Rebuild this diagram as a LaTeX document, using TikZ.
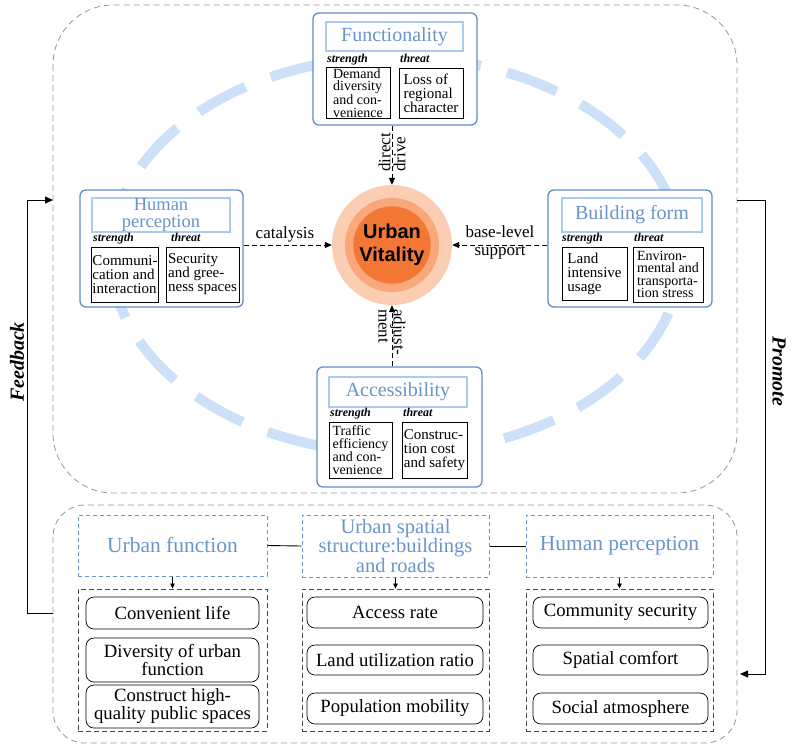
\documentclass[tikz,border=0pt]{standalone}
\usepackage{fontspec}
\setmainfont{Liberation Serif}
\newfontfamily\uvfont{Liberation Sans}
\usetikzlibrary{arrows.meta}
\definecolor{boxblue}{RGB}{96,140,204}
\definecolor{titleline}{RGB}{168,204,242}
\definecolor{titletext}{RGB}{106,148,202}
\definecolor{ellblue}{RGB}{204,225,247}
\definecolor{uvA}{RGB}{251,206,180}
\definecolor{uvB}{RGB}{248,168,122}
\definecolor{uvC}{RGB}{243,120,54}
\definecolor{panelgray}{RGB}{150,150,150}
\definecolor{listgray}{RGB}{70,70,70}
\begin{document}
\begin{tikzpicture}[x=1pt,y=-1pt,
  outerbox/.style={draw=boxblue, line width=1.3pt, rounded corners=6pt, fill=white, inner sep=0pt},
  titlebox/.style={draw=titleline, line width=1.3pt, fill=white, text=titletext, font=\fontsize{20}{17}\selectfont, align=center, inner sep=0pt},
  smallbox/.style={draw=black, line width=0.8pt, fill=white, font=\fontsize{15}{14}\selectfont, align=left, inner sep=1pt},
  fourline/.style={font=\fontsize{14}{12.6}\selectfont},
  lab/.style={font=\bfseries\itshape\fontsize{12}{12}\selectfont, anchor=base west, inner sep=0pt},
  arlab/.style={font=\fontsize{17}{15}\selectfont, inner sep=0pt, align=left},
  dasharrow/.style={draw=black, line width=0.8pt, dash pattern=on 5pt off 3pt, -{Triangle[length=7pt,width=6pt]}},
  panel/.style={draw=panelgray, line width=0.8pt, dash pattern=on 6pt off 4pt},
  ttlbox/.style={draw=titletext, line width=1pt, dash pattern=on 4pt off 3pt, text=titletext, align=center, inner sep=0pt, font=\fontsize{20.5}{17}\selectfont},
  listbox/.style={draw=listgray, line width=0.9pt, dash pattern=on 5pt off 3pt, inner sep=0pt},
  item/.style={draw=black, line width=0.7pt, rounded corners=8pt, fill=white, align=center, inner sep=0pt, font=\fontsize{18.7}{16}\selectfont},
  smallarrow/.style={draw=black, line width=0.8pt, -{Triangle[length=5pt,width=4.5pt]}},
  loop/.style={draw=black, line width=0.8pt, -{Triangle[length=8pt,width=7pt]}},
  side/.style={font=\bfseries\itshape\fontsize{20}{20}\selectfont, inner sep=0pt}
]
\useasboundingbox (0,0) rectangle (792,748);

% panels
\draw[panel, rounded corners=60pt] (53,5) rectangle (737,493);
\draw[panel, rounded corners=32pt] (53,505) rectangle (737,743);

% dashed light-blue ellipse
\draw[ellblue, line width=10pt, dash pattern=on 53pt off 27pt, dash phase=20pt] (396,255) ellipse [x radius=285, y radius=198];

% Functionality
\node[outerbox, minimum width=164pt, minimum height=112pt] (fn) at (395,69) {};
\node[titlebox, minimum width=137pt, minimum height=29pt] (fnT) at (394.5,36.5) {Functionality};
\node[lab] (fnS) at (327,62) {strength};
\node[lab] (fnR) at (400,62) {threat};
\node[smallbox, fourline, minimum width=64pt, minimum height=50pt] (fnSb) at (358,93) {Demand\\diversity\\and con-\\venience};
\node[smallbox, minimum width=64pt, minimum height=50pt] (fnRb) at (431,93) {Loss of\\regional\\character};

% Human perception
\node[outerbox, minimum width=163pt, minimum height=117pt] (hp) at (161.5,248.5) {};
\node[titlebox, minimum width=138pt, minimum height=34pt, font=\fontsize{18.5}{17.5}\selectfont] (hpT) at (161,215) {Human\\perception};
\node[lab] (hpS) at (93,241) {strength};
\node[lab] (hpR) at (171,241) {threat};
\node[smallbox, minimum width=66pt, minimum height=55pt] (hpSb) at (125,274.5) {Communi-\\cation and\\interaction};
\node[smallbox, minimum width=73pt, minimum height=55pt] (hpRb) at (202.5,274.5) {Security\\and gree-\\ness spaces};

% Building form
\node[outerbox, minimum width=164pt, minimum height=117pt] (bf) at (630,248.5) {};
\node[titlebox, minimum width=140pt, minimum height=34pt] (bfT) at (632,215) {Building form};
\node[lab] (bfS) at (562,241) {strength};
\node[lab] (bfR) at (634,241) {threat};
\node[smallbox, minimum width=65pt, minimum height=53pt] (bfSb) at (594.5,273.5) {Land\\intensive\\usage};
\node[smallbox, fourline, minimum width=70pt, minimum height=55pt] (bfRb) at (668,274.5) {Environ-\\mental and\\transporta-\\tion stress};

% Accessibility
\node[outerbox, minimum width=165pt, minimum height=120pt] (ac) at (399.5,427) {};
\node[titlebox, minimum width=138pt, minimum height=30pt] (acT) at (398,392) {Accessibility};
\node[lab] (acS) at (330,416) {strength};
\node[lab] (acR) at (403,416) {threat};
\node[smallbox, fourline, minimum width=63pt, minimum height=56pt, font=\fontsize{14}{13}\selectfont] (acSb) at (360.5,450) {Traffic\\efficiency\\and con-\\venience};
\node[smallbox, minimum width=65pt, minimum height=56pt] (acRb) at (434.5,450) {Construc-\\tion cost\\and safety};

% Urban vitality
\node[circle, fill=uvA, minimum size=120pt, inner sep=0pt] (uv) at (392,245) {};
\node[circle, fill=uvB, minimum size=94pt, inner sep=0pt] (uvm) at (392,245) {};
\node[circle, fill=uvC, minimum size=77pt, inner sep=0pt, align=center, font=\uvfont\bfseries\fontsize{20}{23}\selectfont] (uvi) at (392,245) {Urban\\Vitality};

% arrows to center
\draw[dasharrow] (fn.south -| uv.north) -- (uv.north);
\node[arlab, rotate=90, anchor=west] (ddl) at (392,172) {direct\\drive};
\draw[dasharrow] (hp.east |- uv.west) -- (uv.west);
\node[arlab, anchor=base] (catl) at (285,238) {catalysis};
\draw[dasharrow] (bf.west |- uv.east) -- (uv.east);
\node[arlab, align=center, font=\fontsize{17}{18}\selectfont] (bsl) at (500,242) {base-level\\support};
\draw[dasharrow] (ac.north -| uv.south) -- (uv.south);
\node[arlab, rotate=-90, anchor=west] (adl) at (392,309) {adjust-\\ment};

% bottom titles
\node[ttlbox, minimum width=189pt, minimum height=61pt, font=\fontsize{21.5}{18}\selectfont] (t1) at (172.5,545.5) {Urban function};
\node[ttlbox, minimum width=187pt, minimum height=62pt] (t2) at (395.5,546) {Urban spatial\\structure:buildings\\and roads};
\node[ttlbox, minimum width=187pt, minimum height=62pt, font=\fontsize{21.5}{18}\selectfont] (t3) at (619.5,546) {Human perception};
\draw[black, line width=0.9pt] (t1.east) -- (t2.west);
\draw[black, line width=0.9pt] (t2.east) -- (t3.west);

% list boxes
\node[listbox, minimum width=189pt, minimum height=142pt] (l1) at (172.5,660) {};
\node[listbox, minimum width=187pt, minimum height=142pt] (l2) at (395.5,660) {};
\node[listbox, minimum width=187pt, minimum height=142pt] (l3) at (619.5,660) {};
\draw[smallarrow] (t1.south) -- (l1.north);
\draw[smallarrow] (t2.south) -- (l2.north);
\draw[smallarrow] (t3.south) -- (l3.north);

% items
\node[item, minimum width=173pt, minimum height=32pt] (i11) at (172.5,613) {Convenient life};
\node[item, minimum width=173pt, minimum height=44pt] (i12) at (172.5,660) {Diversity of urban\\function};
\node[item, minimum width=173pt, minimum height=43pt] (i13) at (172.5,706.5) {Construct high-\\quality public spaces};
\node[item, minimum width=176pt, minimum height=31pt] (i21) at (395,612.5) {Access rate};
\node[item, minimum width=176pt, minimum height=30pt] (i22) at (395,660) {Land utilization ratio};
\node[item, minimum width=176pt, minimum height=31pt] (i23) at (395,708.5) {Population mobility};
\node[item, minimum width=175pt, minimum height=31pt] (i31) at (620.5,612.5) {Community security};
\node[item, minimum width=175pt, minimum height=30pt] (i32) at (620.5,660) {Spatial comfort};
\node[item, minimum width=175pt, minimum height=31pt] (i33) at (620.5,708.5) {Social atmosphere};

% feedback and promote
\coordinate (fbA) at (53,613);
\coordinate (fbB) at (27,613);
\coordinate (fbC) at (27,200);
\coordinate (fbD) at (53,200);
\draw[loop] (fbA) -- (fbB) -- (fbC) -- (fbD);
\node[side, rotate=90] (fbl) at (17,362) {Feedback};
\coordinate (prA) at (737,200);
\coordinate (prB) at (765,200);
\coordinate (prC) at (765,674);
\coordinate (prD) at (740,674);
\draw[loop] (prA) -- (prB) -- (prC) -- (prD);
\node[side, rotate=-90] (prl) at (779,371) {Promote};
\end{tikzpicture}
\end{document}
